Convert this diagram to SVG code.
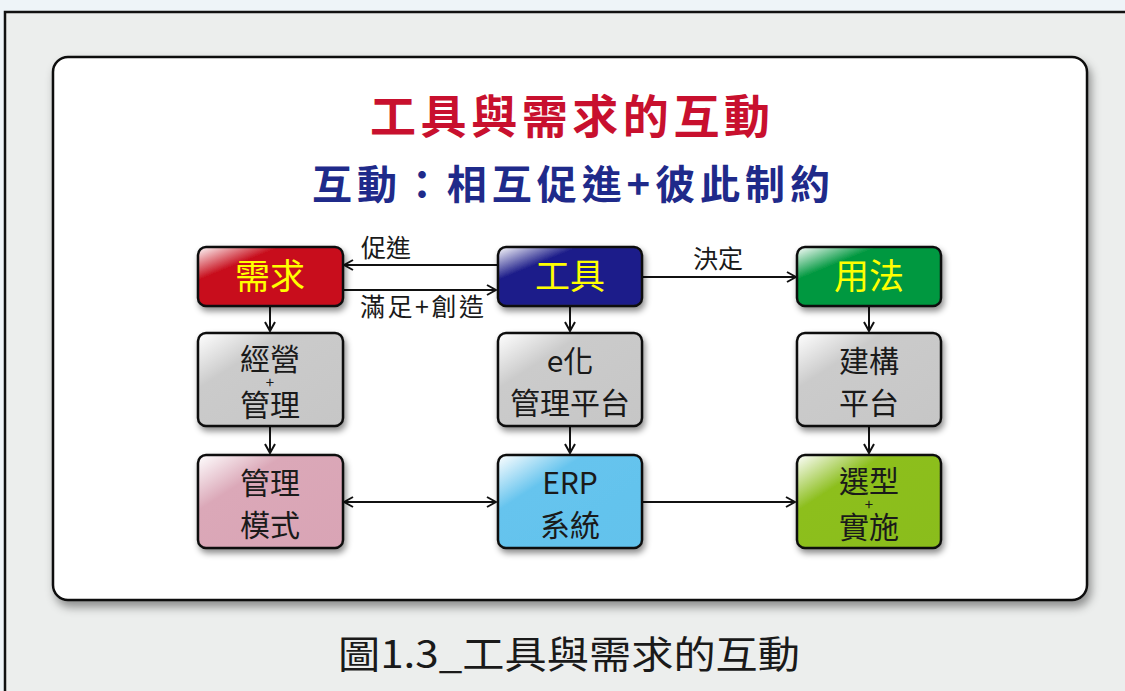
<svg xmlns="http://www.w3.org/2000/svg" width="1125" height="691" viewBox="0 0 1125 691">
<defs>
<style>
.t{font-family:"Noto Sans CJK TC","Noto Sans CJK SC",sans-serif}
.box{stroke:#111;stroke-width:2.5}
.yl{fill:#ffff00;font-size:35px}
.dk{fill:#1a1a1a;font-size:30px}
.pl{fill:#1a1a1a;font-size:15px}
.conn path{fill:none;stroke:#111;stroke-width:2}
.lbl{fill:#1a1a1a;font-size:25px}
</style>
<filter id="sh" x="-10%" y="-10%" width="130%" height="140%">
<feDropShadow dx="2" dy="4" stdDeviation="3" flood-color="#000" flood-opacity="0.45"/>
</filter>
<filter id="sh2" x="-5%" y="-5%" width="110%" height="115%">
<feDropShadow dx="3" dy="6" stdDeviation="5" flood-color="#000" flood-opacity="0.4"/>
</filter>
<marker id="ah" viewBox="0 0 12 12" refX="11" refY="6" markerWidth="12" markerHeight="12" markerUnits="userSpaceOnUse" orient="auto-start-reverse">
<path d="M2,1 L11,6 L2,11" fill="none" stroke="#111" stroke-width="2"/>
</marker>
<linearGradient id="gRed" x1="0" y1="0" x2="1" y2="1"><stop offset="0" stop-color="#ffffff"/><stop offset="0.28" stop-color="#c8101e"/><stop offset="1" stop-color="#c8101e"/></linearGradient>
<linearGradient id="gBlue" x1="0" y1="0" x2="1" y2="1"><stop offset="0" stop-color="#ffffff"/><stop offset="0.28" stop-color="#1e1e8a"/><stop offset="1" stop-color="#1e1e8a"/></linearGradient>
<linearGradient id="gGreen" x1="0" y1="0" x2="1" y2="1"><stop offset="0" stop-color="#ffffff"/><stop offset="0.28" stop-color="#00983f"/><stop offset="1" stop-color="#00983f"/></linearGradient>
<linearGradient id="gGray" x1="0" y1="0" x2="1" y2="1"><stop offset="0" stop-color="#ffffff"/><stop offset="0.3" stop-color="#cbcbcb"/><stop offset="1" stop-color="#c6c6c6"/></linearGradient>
<linearGradient id="gPink" x1="0" y1="0" x2="1" y2="1"><stop offset="0" stop-color="#ffffff"/><stop offset="0.3" stop-color="#dba8b8"/><stop offset="1" stop-color="#d9a4b5"/></linearGradient>
<linearGradient id="gSky" x1="0" y1="0" x2="1" y2="1"><stop offset="0" stop-color="#ffffff"/><stop offset="0.3" stop-color="#66c4ee"/><stop offset="1" stop-color="#62c2ec"/></linearGradient>
<linearGradient id="gLime" x1="0" y1="0" x2="1" y2="1"><stop offset="0" stop-color="#ffffff"/><stop offset="0.3" stop-color="#8dbf1f"/><stop offset="1" stop-color="#8abd1c"/></linearGradient>
</defs>
<rect x="0" y="0" width="1125" height="691" fill="#eef4f8"/>
<rect x="5" y="12" width="1130" height="690" fill="#eceeed" stroke="#111" stroke-width="2.5"/>
<rect x="53" y="57" width="1034" height="543" rx="15" fill="#ffffff" stroke="#111" stroke-width="2.5" filter="url(#sh2)"/>
<text class="t" x="570" y="133" text-anchor="middle" font-size="46" font-weight="bold" fill="#c8102e" textLength="400" lengthAdjust="spacing">工具與需求的互動</text>
<text class="t" x="571" y="199" text-anchor="middle" font-size="40" font-weight="bold" fill="#1f2a8a" textLength="518" lengthAdjust="spacing">互動：相互促進+彼此制約</text>

<g class="conn">
<path d="M497,265 H344" marker-end="url(#ah)"/>
<path d="M343,290 H496" marker-end="url(#ah)"/>
<path d="M642,277 H796" marker-end="url(#ah)"/>
<path d="M270,306 V331" marker-end="url(#ah)"/>
<path d="M570,306 V331" marker-end="url(#ah)"/>
<path d="M869,306 V331" marker-end="url(#ah)"/>
<path d="M270,426 V453" marker-end="url(#ah)"/>
<path d="M570,426 V453" marker-end="url(#ah)"/>
<path d="M869,426 V453" marker-end="url(#ah)"/>
<path d="M344,502 H496" marker-start="url(#ah)" marker-end="url(#ah)"/>
<path d="M642,502 H795" marker-end="url(#ah)"/>
<text class="t lbl" x="361" y="257">促進</text>
<text class="t lbl" x="360" y="316" textLength="124" lengthAdjust="spacing">滿足+創造</text>
<text class="t lbl" x="718" y="268" text-anchor="middle">決定</text>
</g>

<g id="n-xuqiu"><rect class="box" x="198" y="247" width="145" height="59" rx="8" fill="url(#gRed)" filter="url(#sh)"/><text class="t yl" x="270" y="289" text-anchor="middle">需求</text></g>
<g id="n-gongju"><rect class="box" x="498" y="247" width="144" height="59" rx="8" fill="url(#gBlue)" filter="url(#sh)"/><text class="t yl" x="570" y="289" text-anchor="middle">工具</text></g>
<g id="n-yongfa"><rect class="box" x="797" y="247" width="144" height="59" rx="8" fill="url(#gGreen)" filter="url(#sh)"/><text class="t yl" x="869" y="289" text-anchor="middle">用法</text></g>

<g id="n-jingying"><rect class="box" x="198" y="333" width="145" height="93" rx="8" fill="url(#gGray)" filter="url(#sh)"/><text class="t dk" x="270" y="370" text-anchor="middle">經營</text><text class="t pl" x="270" y="388" text-anchor="middle">+</text><text class="t dk" x="270" y="416" text-anchor="middle">管理</text></g>
<g id="n-ehua"><rect class="box" x="498" y="333" width="144" height="93" rx="8" fill="url(#gGray)" filter="url(#sh)"/><text class="t dk" x="570" y="372" text-anchor="middle">e化</text><text class="t dk" x="570" y="414" text-anchor="middle">管理平台</text></g>
<g id="n-jiangou"><rect class="box" x="797" y="333" width="144" height="93" rx="8" fill="url(#gGray)" filter="url(#sh)"/><text class="t dk" x="869" y="372" text-anchor="middle">建構</text><text class="t dk" x="869" y="414" text-anchor="middle">平台</text></g>

<g id="n-moshi"><rect class="box" x="198" y="455" width="145" height="93" rx="8" fill="url(#gPink)" filter="url(#sh)"/><text class="t dk" x="270" y="494" text-anchor="middle">管理</text><text class="t dk" x="270" y="536" text-anchor="middle">模式</text></g>
<g id="n-erp"><rect class="box" x="498" y="455" width="144" height="93" rx="8" fill="url(#gSky)" filter="url(#sh)"/><text class="t dk" x="570" y="494" text-anchor="middle">ERP</text><text class="t dk" x="570" y="536" text-anchor="middle">系統</text></g>
<g id="n-xuanxing"><rect class="box" x="797" y="455" width="144" height="93" rx="8" fill="url(#gLime)" filter="url(#sh)"/><text class="t dk" x="869" y="492" text-anchor="middle">選型</text><text class="t pl" x="869" y="510" text-anchor="middle">+</text><text class="t dk" x="869" y="538" text-anchor="middle">實施</text></g>

<text class="t" x="569" y="668" text-anchor="middle" font-size="38" fill="#1a1a1a" textLength="462" lengthAdjust="spacingAndGlyphs">圖1.3_工具與需求的互動</text>
</svg>
